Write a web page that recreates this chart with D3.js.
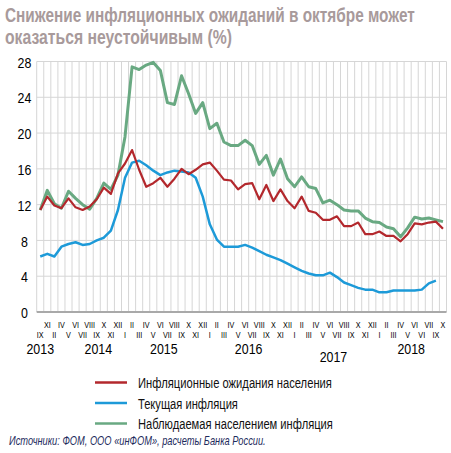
<!DOCTYPE html>
<html>
<head>
<meta charset="utf-8">
<script src="https://d3js.org/d3.v7.min.js"></script>
<style>
  body { margin: 0; background: #fff; }
  svg text { font-family: 'Liberation Sans', Arial, sans-serif; }
</style>
</head>
<body>
<svg id="chart" width="451" height="453"></svg>
<script>
// survey months (FOM), IX 2013 - X 2018
var months = ['IX','XI',
  'II','IV','V','VI','VII','VIII','IX','X','XI','XII',
  'I','II','III','IV','V','VI','VII','VIII','IX','X','XI','XII',
  'I','II','III','IV','V','VI','VII','VIII','IX','X','XI','XII',
  'I','II','III','IV','V','VI','VII','VIII','IX','X','XI','XII',
  'I','II','III','IV','V','VI','VII','VIII','IX','X'];
var years = [2013,2013,
  2014,2014,2014,2014,2014,2014,2014,2014,2014,2014,
  2015,2015,2015,2015,2015,2015,2015,2015,2015,2015,2015,2015,
  2016,2016,2016,2016,2016,2016,2016,2016,2016,2016,2016,2016,
  2017,2017,2017,2017,2017,2017,2017,2017,2017,2017,2017,2017,
  2018,2018,2018,2018,2018,2018,2018,2018,2018,2018];
// labels as printed under the axis
var tickLabels = months.slice(0, 54).concat(['VI','VII','IX','X']);
var yearLabels = ['2013','2014','2015','2016','2017','2018'];
var yTicks = [0,4,8,12,16,20,24,28];

var expectations = [11.4,12.9,
  11.9,11.6,12.7,11.7,11.4,11.8,12.6,13.9,13.2,15.5,
  16.6,18.1,15.9,14.0,14.4,15.0,14.0,14.9,16.0,15.4,15.9,16.5,
  16.7,15.8,14.8,14.7,13.7,14.3,14.4,12.6,14.2,12.4,13.7,12.4,
  11.6,12.9,11.3,11.1,10.3,10.3,10.7,9.6,9.6,10.0,8.7,8.7,
  9.0,8.5,8.5,7.9,8.7,9.9,9.8,10.0,10.1,9.3];
var currentInflation = [6.2,6.5,
  6.2,7.3,7.6,7.8,7.5,7.6,8.0,8.3,9.1,11.4,
  15.0,16.7,16.9,16.4,15.8,15.3,15.6,15.8,15.7,15.6,15.0,12.9,
  9.8,8.1,7.3,7.3,7.3,7.5,7.2,6.8,6.4,6.1,5.8,5.4,
  5.0,4.6,4.3,4.1,4.1,4.4,3.9,3.3,3.0,2.7,2.5,2.5,
  2.2,2.2,2.4,2.4,2.4,2.4,2.5,3.2,3.5,null];
var perceivedInflation = [11.4,13.6,
  12.1,11.6,13.5,12.7,12.0,11.5,12.7,14.4,13.7,15.3,
  19.6,27.4,27.1,27.6,27.9,27.0,23.4,23.2,26.4,24.4,22.2,23.4,
  20.5,21.1,19.0,18.6,18.6,19.2,18.6,16.5,17.5,15.3,17.1,14.9,
  14.0,15.1,14.0,13.8,12.2,12.5,12.0,11.4,11.3,11.3,10.5,10.1,
  10.0,9.5,9.3,8.4,9.4,10.6,10.4,10.5,10.3,10.1];

var seriesNames = ['Инфляционные ожидания населения', 'Текущая инфляция', 'Наблюдаемая населением инфляция'];
var seriesColors = ['#b3282d', '#1d9ad8', '#69a982'];

var keys = months.map(function(m, i) { return m + ' ' + years[i]; });

// squeeze text horizontally, the original uses a narrow face
function condense(sel, k) {
  sel.each(function() {
    var w = this.getComputedTextLength();
    d3.select(this).attr('textLength', w * k).attr('lengthAdjust', 'spacingAndGlyphs');
  });
}

// text placed at (x,y) and scaled so that it is `width` wide
function fitText(parent, x0, y0, width, str) {
  var g = parent.append('g');
  var t = g.append('text').text(str);
  var w = t.node().getComputedTextLength();
  g.attr('transform', 'translate(' + x0 + ',' + y0 + ') scale(' + (width / w) + ',1)');
  return t;
}

var svg = d3.select('#chart');
var x = d3.scaleBand().domain(keys).range([36.7, 446.5]).padding(0);
var y = d3.scaleLinear().domain([0, 28]).range([312, 61.5]);
var half = x.bandwidth() / 2;

// title
var title = svg.append('g').attr('fill', '#a89a9b').style('font-weight', 'bold').style('font-size', '19.5px');
fitText(title, 5, 21.5, 410, 'Снижение инфляционных ожиданий в октябре может');
fitText(title, 5, 43.5, 227, 'оказаться неустойчивым (%)');

// grid
var grid = svg.append('g').attr('stroke', '#d6d6d6').attr('stroke-width', 1);
grid.selectAll('line.h').data(yTicks.slice(1)).enter().append('line')
  .attr('x1', x.range()[0]).attr('x2', x.range()[1])
  .attr('y1', function(d) { return y(d); }).attr('y2', function(d) { return y(d); });
grid.selectAll('line.v').data(keys.map(function(k) { return x(k); }).concat([x.range()[1]])).enter().append('line')
  .attr('x1', function(d) { return d; }).attr('x2', function(d) { return d; })
  .attr('y1', y(28)).attr('y2', y(0));
svg.append('line').attr('x1', x.range()[0]).attr('x2', x.range()[1])
  .attr('y1', y(0)).attr('y2', y(0)).attr('stroke', '#a9a9a9').attr('stroke-width', 2);

// y axis labels
var yAxis = svg.append('g').attr('transform', 'translate(24.5,0)')
  .call(d3.axisLeft(y).tickValues(yTicks).tickSize(0).tickPadding(0));
yAxis.select('.domain').remove();
yAxis.selectAll('text').attr('text-anchor', 'middle').attr('x', 0).attr('dy', '0.36em')
  .style('font-size', '15.5px').style('font-family', "'Liberation Sans', Arial, sans-serif").attr('fill', '#000')
  .call(condense, 0.8);

// month labels, two alternating rows
var xAxis = svg.append('g').attr('transform', 'translate(0,' + y(0) + ')')
  .call(d3.axisBottom(x).tickSize(0).tickPadding(0).tickFormat(function(d, i) { return tickLabels[i]; }));
xAxis.select('.domain').remove();
xAxis.selectAll('text').attr('dy', null)
  .attr('y', function(d, i) { return i % 2 ? 15.8 : 25.9; })
  .style('font-size', '9px').style('font-family', "'Liberation Sans', Arial, sans-serif").attr('fill', '#000')
  .call(condense, 0.8);

// year labels
var yearMid = [[0, 0], [8, 9], [17, 18], [29, 30], [41, 42], [52, 53]];
svg.append('g').selectAll('text').data(yearLabels).enter().append('text')
  .attr('x', function(d, i) { return (x(keys[yearMid[i][0]]) + x(keys[yearMid[i][1]])) / 2 + half - (i == 1 ? 2 : 0); })
  .attr('y', function(d) { return d == '2017' ? 362 : 353.5; })
  .attr('text-anchor', 'middle').style('font-size', '15.5px').attr('fill', '#000')
  .text(function(d) { return d; })
  .call(condense, 0.8);

// series
var line = d3.line()
  .defined(function(d) { return d != null; })
  .x(function(d, i) { return x(keys[i]) + half; })
  .y(function(d) { return y(d); });

var series = [
  {values: perceivedInflation, color: seriesColors[2], width: 3},
  {values: currentInflation, color: seriesColors[1], width: 2.5},
  {values: expectations, color: seriesColors[0], width: 2.2}
];
svg.append('g').selectAll('path').data(series).enter().append('path')
  .attr('d', function(d) { return line(d.values); })
  .attr('fill', 'none')
  .attr('stroke', function(d) { return d.color; })
  .attr('stroke-width', function(d) { return d.width; })
  .attr('stroke-linejoin', 'round');

// legend
var legendLen = [194, 100, 195];
var legend = svg.append('g').style('font-size', '15px').attr('fill', '#111');
seriesNames.forEach(function(name, i) {
  var ly = 382.5 + i * 20.5;
  legend.append('line').attr('x1', 95).attr('x2', 127).attr('y1', ly).attr('y2', ly)
    .attr('stroke', seriesColors[i]).attr('stroke-width', 2.5);
  fitText(legend, 138, ly + 5.5, legendLen[i], name);
});

// source
var source = svg.append('g').style('font-size', '12px').style('font-style', 'italic').attr('fill', '#1c2a5c');
fitText(source, 9, 445, 257, 'Источники: ФОМ, ООО «инФОМ», расчеты Банка России.');
</script>
</body>
</html>
